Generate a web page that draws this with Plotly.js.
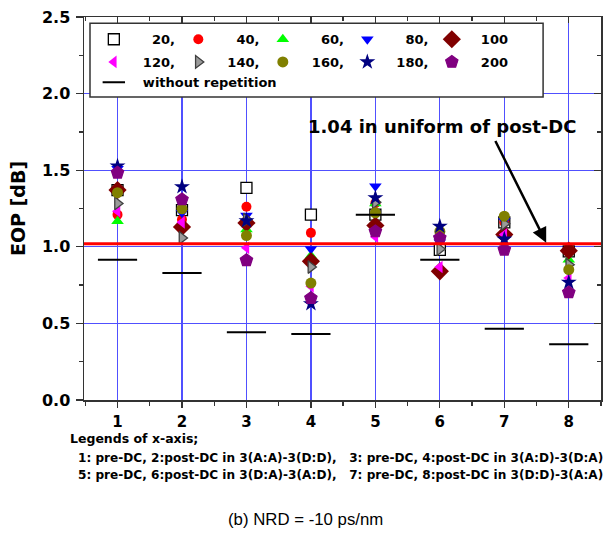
<!DOCTYPE html>
<html>
<head>
<meta charset="utf-8">
<script src="https://cdn.plot.ly/plotly-3.0.1.min.js"></script>
<style>html,body{margin:0;padding:0;background:#fff;} #chart{width:610px;height:535px;}</style>
</head>
<body>
<div id="chart"></div>
<script>
// ---- data ----
const xPos = [1, 2, 3, 4, 5, 6, 7, 8];
const seriesNames = ['20', '40', '60', '80', '100', '120', '140', '160', '180', '200'];
const s20  = [1.37, 1.24, 1.385, 1.21, 1.21, 0.98, 1.16, 0.97];
const s40  = [1.21, 1.178, 1.261, 1.091, 1.285, 1.05, 1.16, 0.99];
const s60  = [1.167, 1.14, 1.113, 0.942, 1.283, 1.03, 1.10, 0.916];
const s80  = [1.51, 1.222, 1.204, 0.986, 1.396, 1.03, 1.17, 0.97];
const s100 = [1.37, 1.13, 1.156, 0.905, 1.139, 0.84, 1.08, 0.975];
const s120 = [1.232, 1.16, 0.993, 0.742, 1.065, 0.868, 1.08, 0.796];
const s140 = [1.283, 1.058, 1.178, 0.868, 1.29, 0.985, 1.15, 0.883];
const s160 = [1.353, 1.248, 1.073, 0.763, 1.222, 1.10, 1.20, 0.851];
const s180 = [1.527, 1.392, 1.17, 0.628, 1.32, 1.134, 1.05, 0.768];
const s200 = [1.483, 1.309, 0.912, 0.665, 1.10, 1.058, 0.98, 0.702];
const withoutRep = [0.915, 0.829, 0.443, 0.43, 1.21, 0.916, 0.465, 0.364];
const uniformPostDC = 1.02;
const xTickLabels = ['1', '2', '3', '4', '5', '6', '7', '8'];
const yTickVals = [0.0, 0.5, 1.0, 1.5, 2.0, 2.5];

// ---- styles ----
const allSeries = [s20, s40, s60, s80, s100, s120, s140, s160, s180, s200];
const markerStyles = [
  {symbol: 'square', size: 11, color: '#ffffff', line: {color: '#000000', width: 1.3}},
  {symbol: 'circle', size: 10, color: '#ff0000', line: {color: '#ff0000', width: 0}},
  {symbol: 'triangle-up', size: 11, color: '#00ff00', line: {color: '#00ff00', width: 0}},
  {symbol: 'triangle-down', size: 11, color: '#0000ff', line: {color: '#0000ff', width: 0}},
  {symbol: 'diamond', size: 14, color: '#800000', line: {color: '#800000', width: 0}},
  {symbol: 'triangle-left', size: 11, color: '#ff00ff', line: {color: '#ff00ff', width: 0}},
  {symbol: 'triangle-right', size: 11, color: '#9a9a9a', line: {color: '#404040', width: 1.3}},
  {symbol: 'circle', size: 11, color: '#808000', line: {color: '#808000', width: 0}},
  {symbol: 'star', size: 12, color: '#000080', line: {color: '#000080', width: 0}},
  {symbol: 'pentagon', size: 13, color: '#800080', line: {color: '#800080', width: 1.2}}
];
const BOLD = 'DejaVu Sans, Arial, sans-serif';
const legendFont = {family: BOLD, size: 13, color: '#000', weight: 'bold'};

function padName(n, i) {
  const pad = n.length < 3 ? '\u00a0\u00a0\u00a0\u00a0' : '\u00a0\u00a0';
  return pad + n + (i === 4 || i === 9 ? '' : ',');
}

const traces = allSeries.map((vals, i) => ({
  type: 'scatter', mode: 'markers', x: xPos, y: vals,
  name: padName(seriesNames[i], i),
  legend: i < 5 ? 'legend' : 'legend2',
  marker: markerStyles[i], cliponaxis: false
}));
traces.push({
  type: 'scatter', mode: 'markers', x: xPos, y: withoutRep,
  name: '\u00a0\u00a0without repetition', legend: 'legend3',
  marker: {symbol: 'line-ew', size: 28, color: '#000', line: {color: '#000', width: 2}}
});
// carrier for mirrored inside ticks
traces.push({type: 'scatter', mode: 'markers', x: [1], y: [1], xaxis: 'x2', yaxis: 'y2',
  showlegend: false, hoverinfo: 'skip', marker: {opacity: 0}});

const yTickFont = {family: BOLD, size: 16, color: '#000', weight: 'bold'};
const xTickFont = {family: BOLD, size: 15, color: '#000', weight: 'bold'};
const gridColor = 'rgb(80,80,255)';
const xr = [0.48, 8.5];
const yr = [0, 2.5];

function legendRow(yTop, withWidth) {
  const L = {
    orientation: 'h', x: 0.019, y: yTop, xanchor: 'left', yanchor: 'top',
    bgcolor: 'rgba(255,255,255,0)', borderwidth: 0,
    font: legendFont, traceorder: 'normal', tracegroupgap: 0
  };
  if (withWidth) { L.entrywidth = 39.5; L.entrywidthmode = 'pixels'; }
  return L;
}

const layout = {
  width: 610, height: 535,
  margin: {l: 84, r: 9, t: 17, b: 135},
  paper_bgcolor: '#fff', plot_bgcolor: '#fff',
  showlegend: true,
  legend: legendRow(0.981, true),
  legend2: legendRow(0.9217, true),
  legend3: legendRow(0.8685, false),
  xaxis: {
    range: xr, tickvals: xPos, ticktext: xTickLabels, tickfont: xTickFont,
    ticks: 'outside', ticklen: 6, tickwidth: 1.3, tickcolor: '#333', ticklabelstandoff: 1,
    showline: true, linecolor: '#333', linewidth: 1.5, mirror: true,
    showgrid: true, gridcolor: gridColor, gridwidth: 1.3, zeroline: false,
    minor: {dtick: 0.5, tick0: 0.5, ticks: 'outside', ticklen: 4, tickcolor: '#333', showgrid: false}
  },
  yaxis: {
    range: yr, tickvals: yTickVals, tickformat: '.1f', tickfont: yTickFont,
    ticks: 'outside', ticklen: 7, tickwidth: 1.3, tickcolor: '#333', ticklabelstandoff: 2,
    showline: true, linecolor: '#333', linewidth: 1.5, mirror: true,
    showgrid: true, gridcolor: gridColor, gridwidth: 1.3, zeroline: false,
    minor: {dtick: 0.25, ticks: 'outside', ticklen: 4, tickcolor: '#333', showgrid: false},
    title: {text: 'EOP [dB]', font: {family: BOLD, size: 19, color: '#000', weight: 'bold'}, standoff: 11}
  },
  xaxis2: {
    range: xr, overlaying: 'x', anchor: 'y2', side: 'top', tickvals: xPos,
    showticklabels: false, ticks: 'inside', ticklen: 6, tickwidth: 1.3, tickcolor: '#333',
    showgrid: false, zeroline: false, showline: false,
    minor: {dtick: 0.5, tick0: 0.5, ticks: 'inside', ticklen: 4, tickcolor: '#333', showgrid: false}
  },
  yaxis2: {
    range: yr, overlaying: 'y', anchor: 'x2', side: 'right', tickvals: yTickVals,
    showticklabels: false, ticks: 'inside', ticklen: 7, tickwidth: 1.3, tickcolor: '#333',
    showgrid: false, zeroline: false, showline: false,
    minor: {dtick: 0.25, ticks: 'inside', ticklen: 4, tickcolor: '#333', showgrid: false}
  },
  shapes: [
    // legend frame
    {type: 'rect', xref: 'paper', yref: 'paper', x0: 0.0116, x1: 0.888, y0: 0.791, y1: 0.984,
     fillcolor: '#ffffff', line: {color: '#333', width: 1.5}, layer: 'above'},
    {type: 'line', xref: 'paper', x0: 0, x1: 1, yref: 'y', y0: uniformPostDC, y1: uniformPostDC,
     line: {color: '#ff0000', width: 3}, layer: 'above'}
  ],
  annotations: [
    {xref: 'x', yref: 'y', x: 6.03, y: 1.785, text: '1.04 in uniform of post-DC', showarrow: false,
     font: {family: BOLD, size: 18, color: '#000', weight: 'bold'}},
    {xref: 'x', yref: 'y', axref: 'x', ayref: 'y', x: 7.65, y: 1.027, ax: 6.85, ay: 1.70, text: '',
     showarrow: true, arrowhead: 2, arrowsize: 1.2, arrowwidth: 2.5, arrowcolor: '#000'},
    {xref: 'paper', yref: 'paper', x: -0.031, y: -0.101, xanchor: 'left', yanchor: 'middle', showarrow: false,
     text: 'Legends of x-axis;',
     font: {family: BOLD, size: 12.5, color: '#000', weight: 'bold'}},
    {xref: 'paper', yref: 'paper', x: -0.0155, y: -0.1507, xanchor: 'left', yanchor: 'middle', showarrow: false,
     text: '1: pre-DC, 2:post-DC in 3(A:A)-3(D:D),\u00a0\u00a0\u00a03: pre-DC, 4:post-DC in 3(A:D)-3(D:A)',
     font: {family: BOLD, size: 12.1, color: '#000', weight: 'bold'}},
    {xref: 'paper', yref: 'paper', x: -0.0155, y: -0.1958, xanchor: 'left', yanchor: 'middle', showarrow: false,
     text: '5: pre-DC, 6:post-DC in 3(D:A)-3(A:D),\u00a0\u00a0\u00a07: pre-DC, 8:post-DC in 3(D:D)-3(A:A)',
     font: {family: BOLD, size: 12.1, color: '#000', weight: 'bold'}},
    {xref: 'paper', yref: 'paper', x: 0.4275, y: -0.313, xanchor: 'center', yanchor: 'middle', showarrow: false,
     text: '(b) NRD = -10 ps/nm',
     font: {family: 'Arial, Liberation Sans, sans-serif', size: 16.8, color: '#000'}}
  ]
};

Plotly.newPlot('chart', traces, layout, {displayModeBar: false, staticPlot: true});
</script>
</body>
</html>
